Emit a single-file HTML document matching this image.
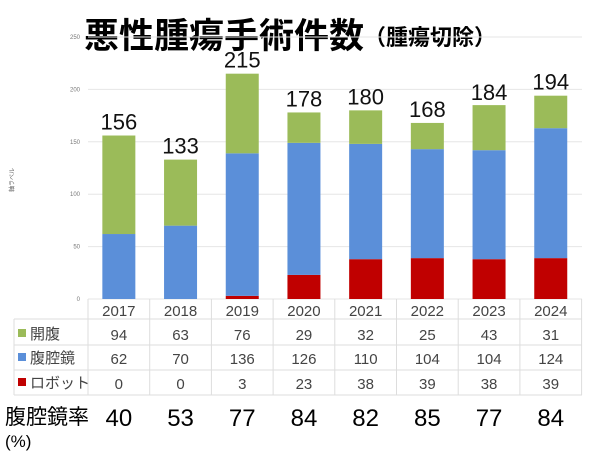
<!DOCTYPE html>
<html><head><meta charset="utf-8"><style>
body{margin:0;background:#fff;width:600px;height:451px;overflow:hidden;font-family:"Liberation Sans","Noto Sans CJK JP",sans-serif}
svg text{font-family:"Liberation Sans","Noto Sans CJK JP",sans-serif}
</style></head><body>
<svg width="600" height="451">
<text x="84" y="48" font-size="35" font-weight="bold">悪性腫瘍手術件数<tspan font-size="22" dy="-3">（腫瘍切除）</tspan></text>
<text transform="translate(14,180) rotate(-90)" font-size="6" fill="#666" text-anchor="middle">軸ラベル</text>
<g id="grid"></g><g id="bars"></g><g id="table"></g>
</svg>
<script>
const years=['2017','2018','2019','2020','2021','2022','2023','2024'];
const open=[94,63,76,29,32,25,43,31];
const lap=[62,70,136,126,110,104,104,124];
const robot=[0,0,3,23,38,39,38,39];
const totals=[156,133,215,178,180,168,184,194];
const rates=[40,53,77,84,82,85,77,84];
const yTicks=[0,50,100,150,200,250];
const NS='http://www.w3.org/2000/svg';
const y=v=>299-v*1.048;
const cx=i=>88+61.7*i+30.85;
function mk(p,t,a){const e=document.createElementNS(NS,t);for(const k in a)e.setAttribute(k,a[k]);p.appendChild(e);return e;}
const grid=document.getElementById('grid'),bars=document.getElementById('bars'),tb=document.getElementById('table');
yTicks.forEach(t=>{
 const l=mk(grid,'line',{x1:88,x2:582,y1:y(t),y2:y(t),stroke:'#e6e6e6','stroke-width':1});
 
 
 const tx=mk(grid,'text',{x:80,y:y(t)+2,'font-size':6,fill:'#777','text-anchor':'end'});tx.textContent=t;
 
 
});
const series=[[robot,'#c00000','robot'],[lap,'#5b8fd9','laparoscopic'],[open,'#9bbb59','open']];
years.forEach((yr,i)=>{
 let base=0;
 series.forEach(([arr,col,nm])=>{
  const v=arr[i];if(v>0){
   const r=mk(bars,'rect',{x:cx(i)-16.5,width:33,y:y(base+v),height:v*1.048,fill:col});
   
   
  }
  base+=v;
 });
 const t=mk(bars,'text',{x:cx(i),y:y(totals[i])-6,'font-size':22,'text-anchor':'middle',fill:'#111'});t.textContent=totals[i];
 
 
});
const hl=[319,345,370,395];
hl.forEach(v=>{const l=mk(tb,'line',{x1:14,x2:582,y1:v,y2:v,stroke:'#ddd'});});
mk(tb,'line',{x1:14,x2:14,y1:319,y2:395,stroke:'#ddd'});
for(let i=0;i<=8;i++){const l=mk(tb,'line',{x1:88+61.7*i,x2:88+61.7*i,y1:299,y2:395,stroke:'#ddd'});}
const rows=[['開腹','#9bbb59',open,340],['腹腔鏡','#5b8fd9',lap,364],['ロボット','#c00000',robot,389]];
years.forEach((yr,i)=>{const t=mk(tb,'text',{x:cx(i),y:316,'font-size':15,'text-anchor':'middle',fill:'#444'});t.textContent=yr;
 });
rows.forEach(([nm,col,arr,ry])=>{
 mk(tb,'rect',{x:18,y:ry-11,width:8,height:8,fill:col});
 const l=mk(tb,'text',{x:30,y:ry-1,'font-size':15,fill:'#444'});l.textContent=nm;
 
 arr.forEach((v,i)=>{const t=mk(tb,'text',{x:cx(i),y:ry,'font-size':15,'text-anchor':'middle',fill:'#444'});t.textContent=v;
  });
});
const rl=mk(tb,'text',{x:5,y:424,'font-size':21,fill:'#000'});rl.textContent='腹腔鏡率';

const pl=mk(tb,'text',{x:5,y:447,'font-size':17,fill:'#000'});pl.textContent='(%)';

rates.forEach((v,i)=>{const t=mk(tb,'text',{x:cx(i),y:426,'font-size':24,'text-anchor':'middle',fill:'#000'});t.textContent=v;
 });
</script>
</body></html>
